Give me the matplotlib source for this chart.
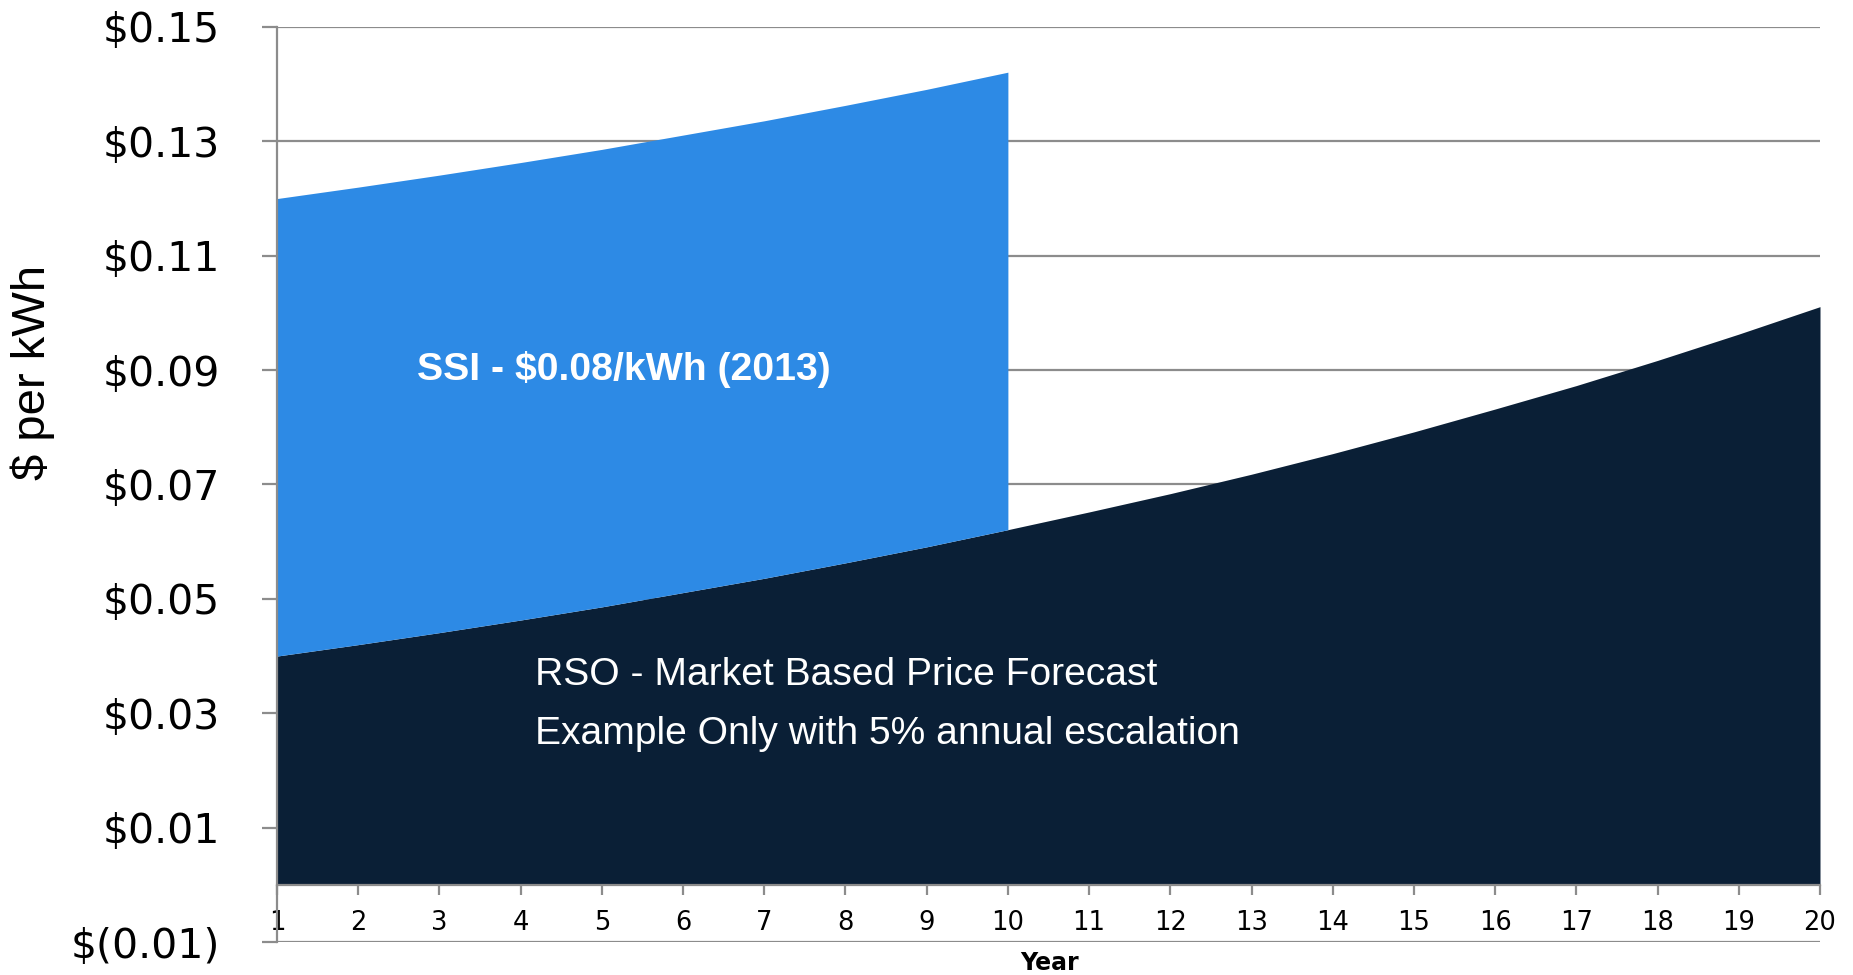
import matplotlib.pyplot as plt
from matplotlib import font_manager

# values ($ per kWh)
years = list(range(1, 21))
rso = [0.0400, 0.0420, 0.0441, 0.0463, 0.0486, 0.0511, 0.0536, 0.0563, 0.0591, 0.0621,
       0.0652, 0.0684, 0.0718, 0.0754, 0.0792, 0.0832, 0.0873, 0.0917, 0.0963, 0.1011]
ssi_years = list(range(1, 11))
ssi = [0.08, 0.08, 0.08, 0.08, 0.08, 0.08, 0.08, 0.08, 0.08, 0.08]
yticks = [-0.01, 0.01, 0.03, 0.05, 0.07, 0.09, 0.11, 0.13, 0.15]
ytick_labels = ['$(0.01)', '$0.01', '$0.03', '$0.05', '$0.07', '$0.09', '$0.11', '$0.13', '$0.15']

installed = {f.name for f in font_manager.fontManager.ttflist}
has_narrow = 'Liberation Sans Narrow' in installed
narrow = (['Liberation Sans Narrow'] if has_narrow else []) + ['Liberation Sans', 'DejaVu Sans']
# without the narrow face, shrink a little so widths match
ssi_size = 34 if has_narrow else 28.3
rso_size = 31.5 if has_narrow else 28.1

fig = plt.figure(figsize=(18.53, 9.75), dpi=100)
ax = fig.add_axes([277 / 1853, 1 - 942 / 975, (1820 - 277) / 1853, (942 - 27) / 975])

for s in ['top', 'right']:
    ax.spines[s].set_visible(False)
ax.spines['bottom'].set_position(('data', 0))
ax.spines['left'].set_color('#8C8C8C')
ax.spines['left'].set_linewidth(1.6)
ax.spines['bottom'].set_color('#8C8C8C')
ax.spines['bottom'].set_linewidth(1.6)

rso_top = rso[:len(ssi_years)]
ssi_top = [a + b for a, b in zip(rso_top, ssi)]
ax.fill_between(years, 0, rso, color='#0A1F36', lw=0, zorder=1.5)
ax.fill_between(ssi_years, rso_top, ssi_top, color='#2D8AE5', lw=0, zorder=1.5)

ax.set_xlim(1, 20)
ax.set_ylim(-0.01, 0.15)
ax.set_xticks(years)
ax.set_xticklabels([str(y) for y in years], fontsize=18.5, family='DejaVu Sans')
ax.set_yticks(yticks)
ax.set_yticklabels(ytick_labels, fontsize=29.5, family='DejaVu Sans')

ax.grid(axis='y', color='#8C8C8C', lw=1.6, zorder=0.5)
ax.set_axisbelow(True)
ax.tick_params(axis='y', length=11, width=1.6, color='#8C8C8C', pad=30)
ax.tick_params(axis='x', length=7, width=1.6, color='#8C8C8C', pad=11)

ax.text(5.27, 0.0882, 'SSI - $0.08/kWh (2013)', color='white', fontsize=ssi_size,
        fontweight='bold', family=narrow, ha='center', va='baseline', zorder=3)
ax.text(4.18, 0.0349, 'RSO - Market Based Price Forecast', color='white', fontsize=rso_size,
        family=narrow, ha='left', va='baseline', zorder=3)
ax.text(4.18, 0.0246, 'Example Only with 5% annual escalation', color='white', fontsize=rso_size,
        family=narrow, ha='left', va='baseline', zorder=3)

fig.text(33 / 1853, 1 - 372 / 975, '$ per kWh', rotation=90, fontsize=34, family='Liberation Sans',
         ha='center', va='center')
fig.text(1049 / 1853, 1 - 963 / 975, 'Year', fontsize=17, fontweight='bold', family='DejaVu Sans',
         ha='center', va='center')

fig.savefig('out.png', dpi=100)
